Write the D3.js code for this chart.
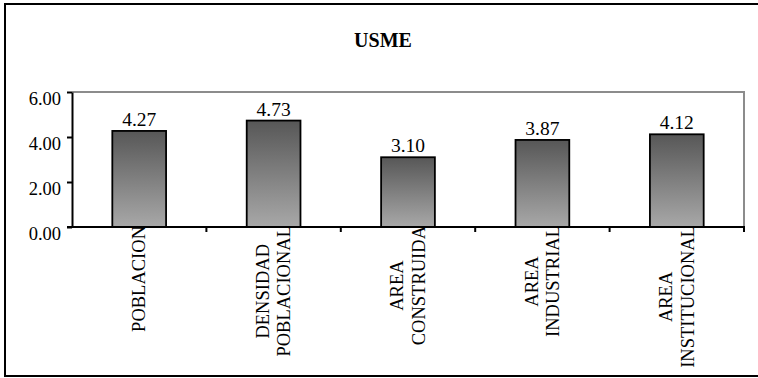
<!DOCTYPE html>
<html>
<head>
<meta charset="utf-8">
<script src="https://cdn.jsdelivr.net/npm/d3@7"></script>
<style>
  html, body { margin: 0; padding: 0; background: #fff; }
  svg { display: block; }
  text { font-family: "Liberation Serif", "Times New Roman", serif; fill: #000; }
</style>
</head>
<body>
<svg id="chart" width="758" height="378"></svg>
<script>
// Indicator values for the USME locality
const title = "USME";
const categories = ["POBLACION", "DENSIDAD POBLACIONAL", "AREA CONSTRUIDA", "AREA INDUSTRIAL", "AREA INSTITUCIONAL"];
const categoryLines = [["POBLACION"], ["DENSIDAD", "POBLACIONAL"], ["AREA", "CONSTRUIDA"], ["AREA", "INDUSTRIAL"], ["AREA", "INSTITUCIONAL"]];
const values = [4.27, 4.73, 3.10, 3.87, 4.12];
const yTicks = [0, 2, 4, 6];

const svg = d3.select("#chart");
const plot = { left: 72, right: 744, top: 92, bottom: 227 };

// outer frame (right edge runs past the canvas)
svg.append("rect")
  .attr("x", 5).attr("y", 4)
  .attr("width", 780).attr("height", 372)
  .attr("fill", "#fff").attr("stroke", "#000").attr("stroke-width", 2);

svg.append("text")
  .attr("x", 383).attr("y", 47)
  .attr("text-anchor", "middle")
  .attr("font-size", 20).attr("font-weight", "bold")
  .text(title);

const x = d3.scaleBand().domain(categories).range([plot.left, plot.right]).padding(0);
const y = d3.scaleLinear().domain([0, 6]).range([plot.bottom, plot.top]);

// gradient fill for the bars
const grad = svg.append("defs").append("linearGradient")
  .attr("id", "barGrad").attr("x1", 0).attr("y1", 0).attr("x2", 0).attr("y2", 1);
grad.append("stop").attr("offset", "0%").attr("stop-color", "#575757");
grad.append("stop").attr("offset", "100%").attr("stop-color", "#a8a8a8");

// plot area frame: grey top and right edges
svg.append("path")
  .attr("d", `M${plot.left},${plot.top}H${plot.right}V${plot.bottom}`)
  .attr("fill", "none").attr("stroke", "#8c8c8c").attr("stroke-width", 2);

const barW = x.bandwidth() * 0.4;
svg.append("g").selectAll("rect")
  .data(values)
  .join("rect")
  .attr("x", (d, i) => x(categories[i]) + (x.bandwidth() - barW) / 2)
  .attr("y", d => y(d))
  .attr("width", barW)
  .attr("height", d => y(0) - y(d))
  .attr("fill", "url(#barGrad)")
  .attr("stroke", "#000").attr("stroke-width", 1.8);

// value labels
svg.append("g").selectAll("text")
  .data(values)
  .join("text")
  .attr("x", (d, i) => x(categories[i]) + x.bandwidth() / 2)
  .attr("y", d => y(d) - 5)
  .attr("text-anchor", "middle")
  .attr("font-size", 19.5)
  .text(d => d.toFixed(2));

// y axis
const yAxis = svg.append("g")
  .attr("transform", `translate(${plot.left},0)`)
  .call(d3.axisLeft(y).tickValues(yTicks).tickFormat(d3.format(".2f")).tickSize(5).tickSizeOuter(0));
yAxis.select(".domain").attr("stroke", "#000").attr("stroke-width", 2);
yAxis.selectAll(".tick line").attr("stroke", "#000").attr("stroke-width", 2);
yAxis.selectAll(".tick text")
  .attr("font-family", "Liberation Serif, Times New Roman, serif")
  .attr("font-size", 18.5).attr("fill", "#000")
  .attr("x", -11).attr("dy", "0.95em").attr("y", -5);

// x axis line and boundary ticks
svg.append("line")
  .attr("x1", plot.left - 5).attr("x2", plot.right + 1)
  .attr("y1", plot.bottom).attr("y2", plot.bottom)
  .attr("stroke", "#000").attr("stroke-width", 2);
svg.append("g").selectAll("line")
  .data(categories)
  .join("line")
  .attr("x1", d => x(d) + x.bandwidth()).attr("x2", d => x(d) + x.bandwidth())
  .attr("y1", plot.bottom).attr("y2", plot.bottom + 5)
  .attr("stroke", "#000").attr("stroke-width", 2);

// rotated category labels, centred lines, block starting at the axis
const lineGap = 21.5;
categoryLines.forEach((lines, i) => {
  const cx = x(categories[i]) + x.bandwidth() / 2;
  const g = svg.append("g");
  const texts = lines.map((t, j) => g.append("text")
    .attr("font-size", 18.5)
    .attr("text-anchor", "middle")
    .attr("dominant-baseline", "central")
    .text(t));
  const L = d3.max(texts, t => t.node().getComputedTextLength());
  const cy = plot.bottom - 1 + L / 2;
  texts.forEach((t, j) => {
    const lx = cx + (j - (lines.length - 1) / 2) * lineGap;
    t.attr("transform", `translate(${lx},${cy}) rotate(-90)`);
  });
});
</script>
</body>
</html>
